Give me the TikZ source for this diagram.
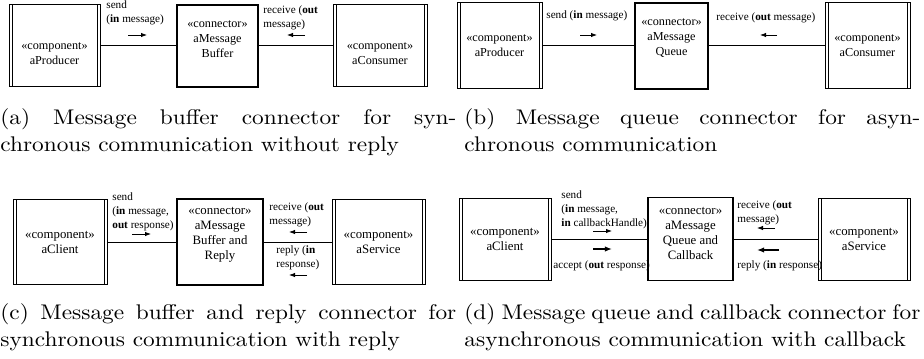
\documentclass[tikz,border=0pt]{standalone}
\usepackage{fontspec}
\newfontfamily\dgfont{Liberation Serif}
\newfontfamily\capfont[FakeStretch=1.1]{lmroman10-regular.otf}
\usetikzlibrary{arrows.meta}

\begin{document}
\begin{tikzpicture}[x=0.5pt, y=-0.5pt,
  comp/.style={draw, line width=0.5pt, minimum width=46pt, minimum height=41pt, inner sep=0pt,
    path picture={
      \draw[line width=0.5pt] ([xshift=1.5pt]path picture bounding box.north west) -- ([xshift=1.5pt]path picture bounding box.south west);
      \draw[line width=0.5pt] ([xshift=-1.5pt]path picture bounding box.north east) -- ([xshift=-1.5pt]path picture bounding box.south east);}},
  conn/.style={draw, line width=0.6pt, minimum width=41pt, minimum height=41pt, inner sep=0pt},
  btext/.style={font=\dgfont\fontsize{6.1}{7.5}\selectfont, align=center, inner sep=0pt},
  bigtext/.style={font=\dgfont\fontsize{6.4}{7.5}\selectfont, align=center, inner sep=0pt},
  lab/.style={font=\dgfont\fontsize{5.6}{7.2}\selectfont, align=left, inner sep=0pt, anchor=north west},
  wire/.style={draw, line width=0.5pt},
  dir/.style={-{Latex[length=3pt, width=2.2pt]}, line width=0.4pt},
  bigdir/.style={-{Latex[length=3.6pt, width=2.8pt]}, line width=0.8pt},
  capt/.style={font=\capfont\fontsize{10.6}{13.6}\selectfont, text width=228pt, align=justify, inner sep=0pt, anchor=north west}]

  \useasboundingbox (0,0) rectangle (924,358);

  % (a)
  \node[comp, minimum width=45.5pt, label={[btext, yshift=-4pt]center:«component»\\aProducer}] (prodA) at (54.5,46) {};
  \node[conn, minimum width=40.5pt, label={[btext, yshift=3.5pt]center:«connector»\\aMessage\\Buffer}] (bufA) at (217.5,46) {};
  \node[comp, minimum width=47pt, label={[btext, yshift=-4pt]center:«component»\\aConsumer}] (consA) at (380,46) {};
  \path[wire] (prodA) -- (bufA);
  \path[wire] (bufA) -- (consA);
  \node[lab] (sendA) at (106,0) {send\\(\textbf{in} message)};
  \node[lab] (recvA) at (263,5) {receive (\textbf{out}\\message)};
  \draw[dir] (128,35) -- (147,35);
  \draw[dir] (305,35) -- (287,35);

  % (b)
  \node[comp, minimum width=42.5pt, minimum height=43pt, label={[btext]center:«component»\\aProducer}] (prodB) at (499.5,46) {};
  \node[conn, minimum width=36.5pt, minimum height=43pt, label={[btext, yshift=4pt]center:«connector»\\aMessage\\Queue}] (queueB) at (671.5,46) {};
  \node[comp, minimum width=42.5pt, minimum height=43pt, label={[btext]center:«component»\\aConsumer}] (consB) at (867.5,46) {};
  \path[wire] (prodB) -- (queueB);
  \path[wire] (queueB) -- (consB);
  \node[lab] (sendB) at (546,10) {send (\textbf{in} message)};
  \node[lab] (recvB) at (716,12) {receive (\textbf{out} message)};
  \draw[dir] (580,35) -- (597,35);
  \draw[dir] (777,35) -- (760,35);

  % (c)
  \node[comp, minimum width=47pt, minimum height=42.5pt, label={[bigtext]center:«component»\\aClient}] (clientC) at (60,242) {};
  \node[conn, minimum width=43pt, minimum height=43pt, label={[bigtext, yshift=3.5pt]center:«connector»\\aMessage\\Buffer and\\Reply}] (bufC) at (220,242) {};
  \node[comp, minimum width=46.5pt, minimum height=42.5pt, label={[bigtext]center:«component»\\aService}] (servC) at (378.5,242) {};
  \path[wire] (clientC) -- (bufC);
  \path[wire] (bufC) -- (servC);
  \node[lab] (sendC) at (112,192) {send\\(\textbf{in} message,\\\textbf{out} response)};
  \node[lab] (recvC) at (269,202) {receive (\textbf{out}\\message)};
  \node[lab] (replyC) at (276,245) {reply (\textbf{in}\\response)};
  \draw[dir] (132,234) -- (151,234);
  \draw[dir] (307,232) -- (289,232);
  \draw[dir] (307,275) -- (289,275);

  % (d)
  \node[comp, minimum width=46pt, label={[bigtext]center:«component»\\aClient}] (clientD) at (505,239) {};
  \node[conn, minimum width=42.5pt, minimum height=41.5pt, label={[bigtext, yshift=3pt]center:«connector»\\aMessage\\Queue and\\Callback}] (queueD) at (690.5,239) {};
  \node[comp, minimum width=46pt, label={[bigtext]center:«component»\\aService}] (servD) at (864,239) {};
  \path[wire] (clientD) -- (queueD);
  \path[wire] (queueD) -- (servD);
  \node[lab] (sendD) at (561,190) {send\\(\textbf{in} message,\\\textbf{in} callbackHandle)};
  \node[lab] (acceptD) at (553,260) {accept (\textbf{out} response)};
  \node[lab] (recvD) at (737,200) {receive (\textbf{out}\\message)};
  \node[lab] (replyD) at (737,260) {reply (\textbf{in} response)};
  \draw[dir] (593,231) -- (612,231);
  \draw[bigdir] (593,249) -- (612,249);
  \draw[dir] (775,228) -- (757,228);
  \draw[bigdir] (779,250) -- (757,250);

  % captions
  \node[capt] (captA) at (0,108) {(a) Message buffer connector for syn-\linebreak chronous communication without reply};
  \node[capt] (captB) at (464,108) {(b) Message queue connector for asyn-\linebreak chronous communication};
  \node[capt] (captC) at (0,303) {(c) Message buffer and reply connector for\linebreak synchronous communication with reply};
  \node[capt] (captD) at (464,303) {(d) Message queue and callback connector for\linebreak asynchronous communication with callback};
\end{tikzpicture}
\end{document}
